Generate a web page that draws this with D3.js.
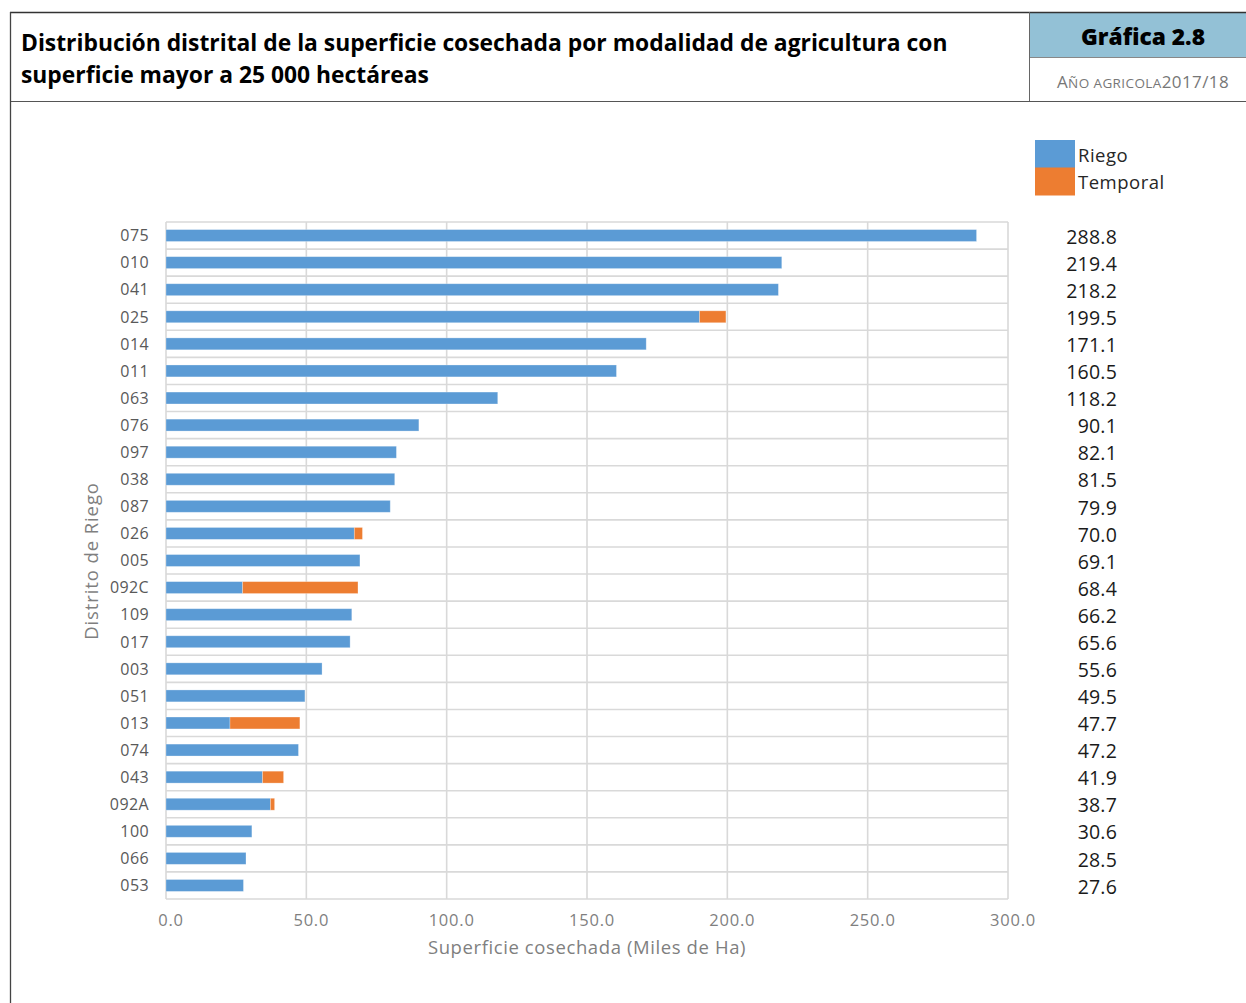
<!DOCTYPE html>
<html><head><meta charset="utf-8">
<script src="https://cdn.jsdelivr.net/npm/d3@7"></script>
<style>
body{margin:0;background:#fff;}
svg{display:block;font-family:"Open Sans","Noto Sans",sans-serif;}
</style></head>
<body>
<svg id="c" width="1246" height="1003"></svg>
<script>
const categories = ["075","010","041","025","014","011","063","076","097","038","087","026","005","092C","109","017","003","051","013","074","043","092A","100","066","053"];
const riego    = [288.8,219.4,218.2,190.1,171.1,160.5,118.2,90.1,82.1,81.5,79.9,67.1,69.1,27.3,66.2,65.6,55.6,49.5,22.8,47.2,34.4,37.2,30.6,28.5,27.6];
const temporal = [0,0,0,9.4,0,0,0,0,0,0,0,2.9,0,41.1,0,0,0,0,24.9,0,7.5,1.5,0,0,0];
const totalLabels = ["288.8","219.4","218.2","199.5","171.1","160.5","118.2","90.1","82.1","81.5","79.9","70.0","69.1","68.4","66.2","65.6","55.6","49.5","47.7","47.2","41.9","38.7","30.6","28.5","27.6"];
const xTicks = [0,50,100,150,200,250,300];
const seriesNames = ["Riego","Temporal"];
const colors = ["#5b9bd5","#ed7d31"];

const svg = d3.select("#c");

function fitWidth(sel, w){
  const n = sel.node();
  const fs = parseFloat(sel.attr("font-size"));
  const cur = n.getComputedTextLength();
  if (cur > 0) sel.attr("font-size", (fs * w / cur).toFixed(2));
}

// ---- Header frame ----
svg.append("rect").attr("x",1029).attr("y",13).attr("width",217).attr("height",44).attr("fill","#93c1d6");
svg.append("line").attr("x1",10).attr("x2",1246).attr("y1",12.5).attr("y2",12.5).attr("stroke","#333").attr("stroke-width",1.5);
svg.append("line").attr("x1",10).attr("x2",1246).attr("y1",101.5).attr("y2",101.5).attr("stroke","#555").attr("stroke-width",1.2);
svg.append("line").attr("x1",1029).attr("x2",1246).attr("y1",57.5).attr("y2",57.5).attr("stroke","#888").attr("stroke-width",1);
svg.append("line").attr("x1",1029.5).attr("x2",1029.5).attr("y1",12).attr("y2",101).attr("stroke","#666").attr("stroke-width",1);
svg.append("line").attr("x1",10.5).attr("x2",10.5).attr("y1",12).attr("y2",1003).attr("stroke","#444").attr("stroke-width",1.3);

const t1 = svg.append("text").attr("x",21).attr("y",51).attr("font-size",20).attr("font-weight",700).attr("fill","#000")
  .text("Distribución distrital de la superficie cosechada por modalidad de agricultura con");
fitWidth(t1, 927);
const t2 = svg.append("text").attr("x",21).attr("y",83).attr("font-size",t1.attr("font-size")).attr("font-weight",700).attr("fill","#000")
  .text("superficie mayor a 25 000 hectáreas");

const g1 = svg.append("text").attr("x",1143).attr("y",45).attr("text-anchor","middle").attr("font-size",21).attr("font-weight",800).attr("fill","#000")
  .text("Gráfica 2.8");
fitWidth(g1, 124);

const sub = svg.append("text").attr("x",1143).attr("y",88).attr("text-anchor","middle").attr("fill","#777").attr("letter-spacing",0.4);
sub.append("tspan").attr("font-size",17).text("A");
sub.append("tspan").attr("font-size",13.5).text("ÑO AGRICOLA");
sub.append("tspan").attr("font-size",17).text("2017/18");

// ---- Chart ----
const x = d3.scaleLinear().domain([0,300]).range([166,1008]);
const y = d3.scaleBand().domain(categories).range([222,899]).padding(0);
const barH = y.bandwidth()*0.44;

const grid = svg.append("g");
grid.selectAll("line.v").data(xTicks).join("line")
  .attr("x1",d=>x(d)).attr("x2",d=>x(d)).attr("y1",222).attr("y2",899)
  .attr("stroke","#d9d9d9").attr("stroke-width",1.6);
grid.selectAll("line.h").data(categories.concat(["__end"])).join("line")
  .attr("x1",x(0)).attr("x2",x(300))
  .attr("y1",(d,i)=> i<categories.length ? y(d) : y.range()[1])
  .attr("y2",(d,i)=> i<categories.length ? y(d) : y.range()[1])
  .attr("stroke","#d9d9d9").attr("stroke-width",1.6);

const table = categories.map((c,i)=>({cat:c, Riego:riego[i], Temporal:temporal[i]}));
const stacked = d3.stack().keys(seriesNames)(table);

svg.append("g").selectAll("g").data(stacked).join("g")
  .attr("fill",(d,i)=>colors[i])
  .selectAll("rect").data(d=>d.filter(v=>v[1]-v[0]>0)).join("rect")
  .attr("x",d=>x(d[0])).attr("width",d=>x(d[1])-x(d[0]))
  .attr("y",d=>y(d.data.cat)+(y.bandwidth()-barH)/2).attr("height",barH)
  .attr("stroke","#ffffff").attr("stroke-opacity",0.35).attr("stroke-width",0.8);

// y category labels
svg.append("g").selectAll("text").data(categories).join("text")
  .attr("x",149).attr("y",d=>y(d)+y.bandwidth()/2).attr("dy","0.36em")
  .attr("text-anchor","end").attr("font-size",16).attr("fill","#595959")
  .attr("letter-spacing",0.4)
  .text(d=>d);

// total labels
svg.append("g").selectAll("text").data(totalLabels).join("text")
  .attr("x",1117).attr("y",(d,i)=>y(categories[i])+y.bandwidth()/2).attr("dy","0.42em")
  .attr("text-anchor","end").attr("font-size",19.5).attr("fill","#1a1a1a")
  .attr("letter-spacing",0.2)
  .text(d=>d);

// x tick labels
svg.append("g").selectAll("text").data(xTicks).join("text")
  .attr("x",d=>x(d)+5).attr("y",926).attr("text-anchor","middle")
  .attr("font-size",16.5).attr("fill","#7f7f7f").attr("letter-spacing",0.8)
  .text(d=>d3.format(".1f")(d));

// axis titles
svg.append("text").attr("x",587).attr("y",954).attr("text-anchor","middle")
  .attr("font-size",18.5).attr("fill","#7f7f7f").attr("letter-spacing",0.6).text("Superficie cosechada (Miles de Ha)");
svg.append("text").attr("transform","translate(98,561) rotate(-90)").attr("text-anchor","middle")
  .attr("font-size",18.5).attr("fill","#7f7f7f").attr("letter-spacing",0.9).text("Distrito de Riego");

// legend
const leg = svg.append("g").selectAll("g").data(seriesNames).join("g");
leg.append("rect").attr("x",1035).attr("y",(d,i)=>140+i*27.5).attr("width",40).attr("height",28).attr("fill",(d,i)=>colors[i]);
leg.append("text").attr("x",1078).attr("y",(d,i)=>162+i*27).attr("font-size",18.5).attr("fill","#262626").attr("letter-spacing",0.5).text(d=>d);
</script>
</body></html>
